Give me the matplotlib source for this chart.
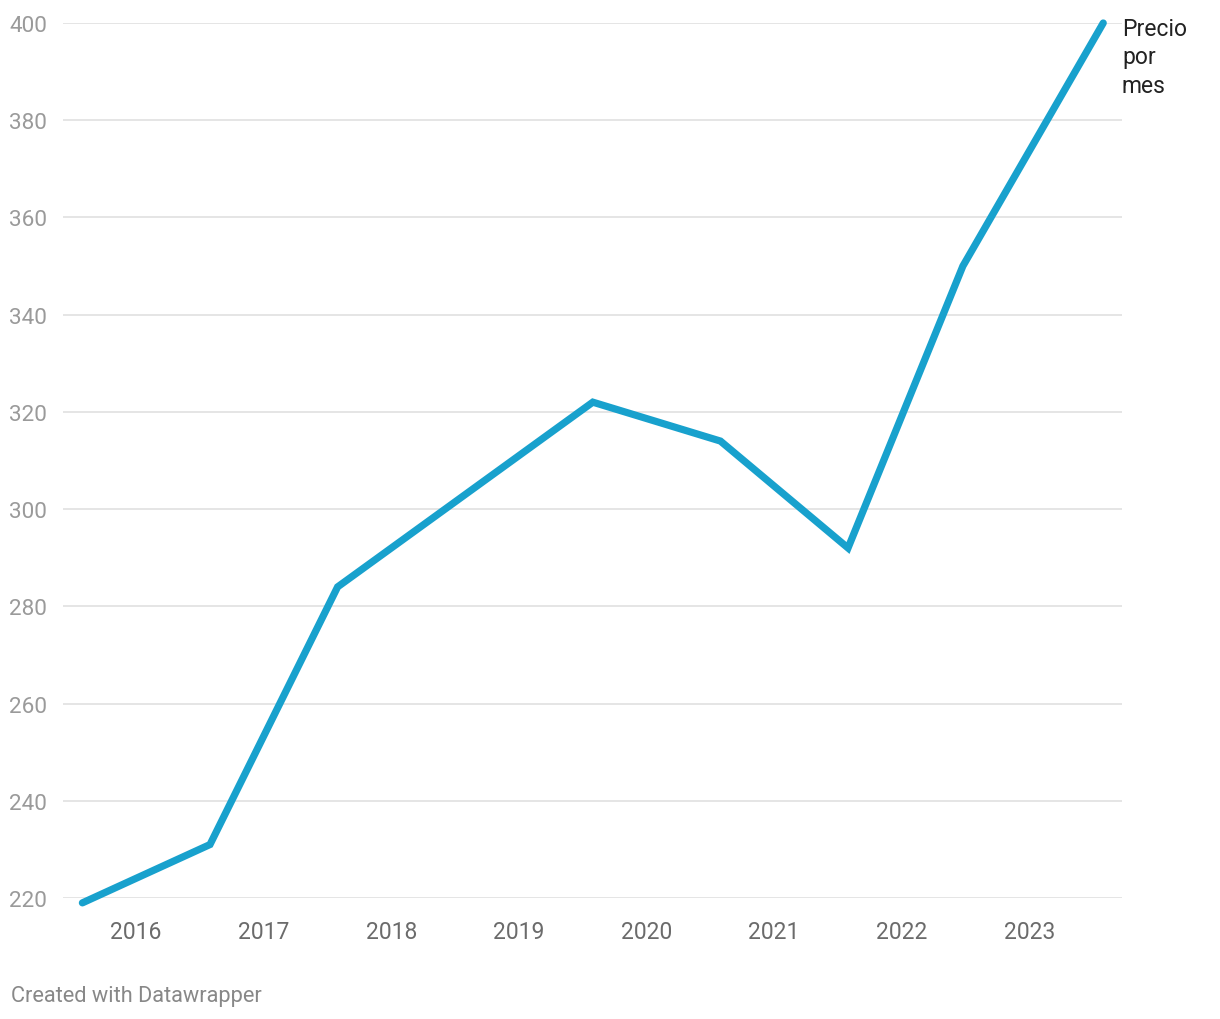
import matplotlib.pyplot as plt

plt.rcParams['font.family'] = ['Roboto', 'DejaVu Sans']

# data (x as decimal years)
dates = [2015.58, 2016.58, 2017.58, 2019.58, 2020.58, 2021.58, 2022.48, 2023.58]
precio = [219, 231, 284, 322, 314, 292, 350, 400]
years = [2016, 2017, 2018, 2019, 2020, 2021, 2022, 2023]
y_ticks = [220, 240, 260, 280, 300, 320, 340, 360, 380, 400]

W, H = 1220, 1020
fig = plt.figure(figsize=(W / 100, H / 100), dpi=100)
ax = fig.add_axes([63 / W, 1 - 899 / H, (1122 - 63) / W, (899 - 24) / H])

ax.plot(dates, precio, color='#18a1cd', linewidth=5.2,
        solid_capstyle='round', solid_joinstyle='miter', clip_on=False, zorder=3)

ax.set_xlim(2015.428, 2023.727)
ax.set_ylim(220, 400)

# gridlines
for v in y_ticks:
    ax.axhline(v, color='#e3e3e3', linewidth=1.3, zorder=1)

ax.set_yticks(y_ticks)
ax.set_yticklabels([str(v) for v in y_ticks])
ax.set_xticks(years)
ax.set_xticklabels([str(y) for y in years])
ax.tick_params(axis='y', length=0, pad=11.5, labelsize=16.2, labelcolor='#9a9a9a')
ax.tick_params(axis='x', length=0, pad=15.5, labelsize=16.5, labelcolor='#6b6b6b')
for s in ax.spines.values():
    s.set_visible(False)

# line label
ax.annotate('Precio\npor\nmes', xy=(dates[-1], precio[-1]), xytext=(13.5, 4),
            textcoords='offset points', ha='left', va='top', fontsize=16.5,
            color='#222222', linespacing=1.28, annotation_clip=False)

fig.text(11 / W, 1 - 997 / H, 'Created with Datawrapper', fontsize=15.7,
         color='#888888', ha='left', va='center')

fig.savefig('out.png', dpi=100, facecolor='white')
